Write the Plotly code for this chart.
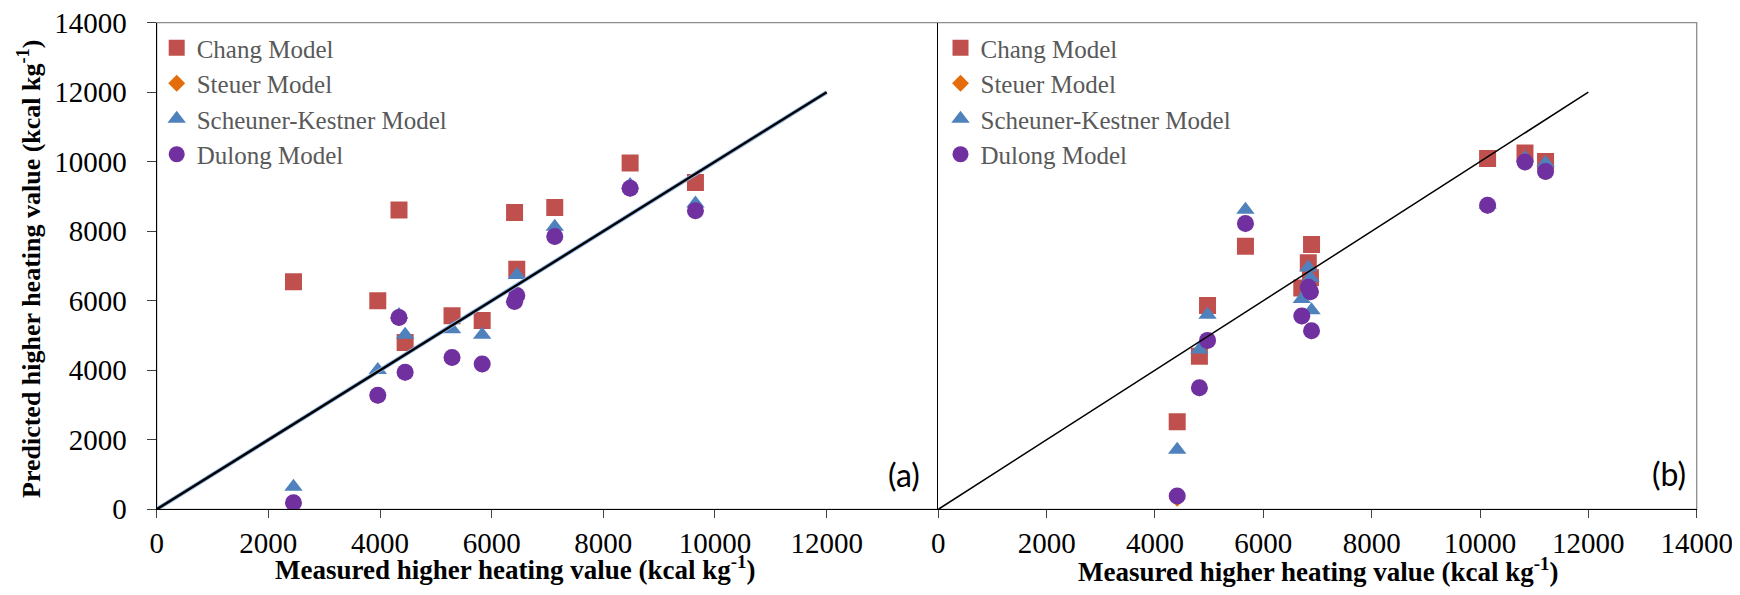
import plotly.graph_objects as go

# The page body has an 8 px margin, so the figure is drawn 8 px in from the window corner.
WIN_W, WIN_H = 1740, 595
OFF = 8
W, H = WIN_W - 2 * OFF, WIN_H - 2 * OFF

# ---------------- data ----------------
series_names = ["Chang Model", "Steuer Model", "Scheuner-Kestner Model", "Dulong Model"]

# panel (a)
measured_a = [2450, 3960, 4340, 4450, 5290, 5830, 6410, 6450, 7130, 8480, 9650]
chang_a    = [6550, 6000, 8610, 4800, 5570, 5430, 8540, 6910, 8680, 9960, 9400]
steuer_a   = [180, 3270, 5510, 3930, 4360, 4170, 5970, 6140, 7840, 9230, 8580]
scheuner_a = [650, 4010, 5590, 5020, 5180, 5020, 6050, 6740, 8130, 9330, 8800]
dulong_a   = [190, 3280, 5520, 3940, 4370, 4180, 5980, 6150, 7850, 9240, 8590]

# panel (b)
measured_b = [4410, 4820, 4970, 5670, 6710, 6830, 6870, 6890, 10140, 10830, 11210]
chang_b    = [2520, 4400, 5860, 7570, 6370, 7090, 6660, 7620, 10090, 10250, 10010]
steuer_b   = [320, 3490, 4850, 8210, 5550, 6380, 6250, 5130, 8740, 9980, 9710]
scheuner_b = [1710, 4600, 5600, 8620, 6050, 6960, 6660, 5730, 8770, 10110, 9960]
dulong_b   = [380, 3500, 4860, 8220, 5560, 6390, 6260, 5140, 8750, 9990, 9720]

# 1:1 reference line
line_x = [0, 12000]
line_y = [0, 12000]

ticks_a = [0, 2000, 4000, 6000, 8000, 10000, 12000]
ticks_b = [0, 2000, 4000, 6000, 8000, 10000, 12000, 14000]
ticks_y = [0, 2000, 4000, 6000, 8000, 10000, 12000, 14000]
ticklabels_a = ["0", "2000", "4000", "6000", "8000", "10000", "12000"]
ticklabels_b = ["0", "2000", "4000", "6000", "8000", "10000", "12000", "14000"]
ticklabels_y = ["0", "2000", "4000", "6000", "8000", "10000", "12000", "14000"]

x_title = "Measured higher heating value (kcal kg<sup>-1</sup>)"
y_title = "Predicted higher heating value (kcal kg<sup>-1</sup>)"

# ---------------- styles ----------------
colors = ["#C0504D", "#E46C0A", "#4F81BD", "#7030A0"]
symbols = ["square", "diamond", "triangle-up", "circle"]
sizes = [17, 13, 16, 17]
SERIF = "Liberation Serif, Times New Roman, serif"


def xp(px):
    """window pixel -> paper fraction"""
    return (px - OFF) / W


def yp(py):
    return 1 - (py - OFF) / H


X0A, X1A = 156.7, 938.3
X0B, X1B = 938.3, 1696.7
Y_TOP, Y_BOT = 22.7, 509.3

fig = go.Figure()

data_a = [chang_a, steuer_a, scheuner_a, dulong_a]
data_b = [chang_b, steuer_b, scheuner_b, dulong_b]

for i, name in enumerate(series_names):
    fig.add_trace(go.Scatter(
        x=measured_a, y=data_a[i], mode="markers", name=name,
        marker=dict(symbol=symbols[i], size=sizes[i], color=colors[i], line=dict(width=0)),
        xaxis="x", yaxis="y", legend="legend",
    ))
for i, name in enumerate(series_names):
    fig.add_trace(go.Scatter(
        x=measured_b, y=data_b[i], mode="markers", name=name,
        marker=dict(symbol=symbols[i], size=sizes[i], color=colors[i], line=dict(width=0)),
        xaxis="x2", yaxis="y2", legend="legend2",
    ))

# reference lines
fig.add_trace(go.Scatter(x=line_x, y=line_y, mode="lines", showlegend=False,
                         line=dict(color="#8DB4E2", width=4.2), xaxis="x", yaxis="y", hoverinfo="skip"))
fig.add_trace(go.Scatter(x=line_x, y=line_y, mode="lines", showlegend=False,
                         line=dict(color="black", width=2.4), xaxis="x", yaxis="y", hoverinfo="skip"))
fig.add_trace(go.Scatter(x=line_x, y=line_y, mode="lines", showlegend=False,
                         line=dict(color="black", width=1.5), xaxis="x2", yaxis="y2", hoverinfo="skip"))

tickfont = dict(family=SERIF, size=29, color="black")
common_axis = dict(showgrid=False, zeroline=False, showline=True, linecolor="black",
                   linewidth=1.3, ticks="outside", tickcolor="#404040", tickwidth=1.2,
                   tickfont=tickfont, ticklabeloverflow="allow")

legend_font = dict(family=SERIF, size=25, color="#595959")

fig.update_layout(
    width=W, height=H,
    margin=dict(l=0, r=0, t=0, b=0, autoexpand=False),
    paper_bgcolor="white", plot_bgcolor="rgba(0,0,0,0)",
    xaxis=dict(domain=[xp(X0A), xp(X1A)], range=[0, 14000], tickvals=ticks_a,
               ticktext=ticklabels_a, ticklen=8, anchor="y", ticklabelstandoff=0, **common_axis),
    yaxis=dict(domain=[yp(Y_BOT), yp(Y_TOP)], range=[0, 14000], tickvals=ticks_y,
               ticktext=ticklabels_y, ticklen=9, anchor="x", ticklabelstandoff=14, **common_axis),
    xaxis2=dict(domain=[xp(X0B), xp(X1B)], range=[0, 14000], tickvals=ticks_b,
                ticktext=ticklabels_b, ticklen=8, anchor="y2", ticklabelstandoff=0, **common_axis),
    yaxis2=dict(domain=[yp(Y_BOT), yp(Y_TOP)], range=[0, 14000], anchor="x2",
                showgrid=False, zeroline=False, showline=True, linecolor="black",
                linewidth=1.3, ticks="", showticklabels=False),
    legend=dict(x=xp(156.7), y=yp(25), xanchor="left", yanchor="top",
                bgcolor="rgba(0,0,0,0)", borderwidth=0, font=legend_font),
    legend2=dict(x=xp(940.5), y=yp(25), xanchor="left", yanchor="top",
                 bgcolor="rgba(0,0,0,0)", borderwidth=0, font=legend_font),
    shapes=[dict(type="rect", xref="paper", yref="paper",
                 x0=xp(X0A), x1=xp(X1B), y0=yp(Y_BOT), y1=yp(Y_TOP),
                 line=dict(color="#8C8C8C", width=1.3), layer="below")],
    annotations=[
        dict(text=x_title, xref="paper", yref="paper", x=xp(516), y=yp(568),
             xanchor="center", yanchor="middle", showarrow=False,
             font=dict(family=SERIF, size=27, color="black", weight="bold")),
        dict(text=x_title, xref="paper", yref="paper", x=xp(1318), y=yp(570),
             xanchor="center", yanchor="middle", showarrow=False,
             font=dict(family=SERIF, size=27, color="black", weight="bold")),
        dict(text=y_title, xref="paper", yref="paper", x=xp(29), y=yp(269),
             xanchor="center", yanchor="middle", showarrow=False, textangle=-90,
             font=dict(family=SERIF, size=26, color="black", weight="bold")),
        dict(text="(a)", xref="paper", yref="paper", x=xp(904), y=yp(474),
             xanchor="center", yanchor="middle", showarrow=False,
             font=dict(family="Lato, sans-serif", size=32, color="black")),
        dict(text="(b)", xref="paper", yref="paper", x=xp(1669), y=yp(473),
             xanchor="center", yanchor="middle", showarrow=False,
             font=dict(family="Lato, sans-serif", size=32, color="black")),
    ],
)

fig.write_html("out.html")
